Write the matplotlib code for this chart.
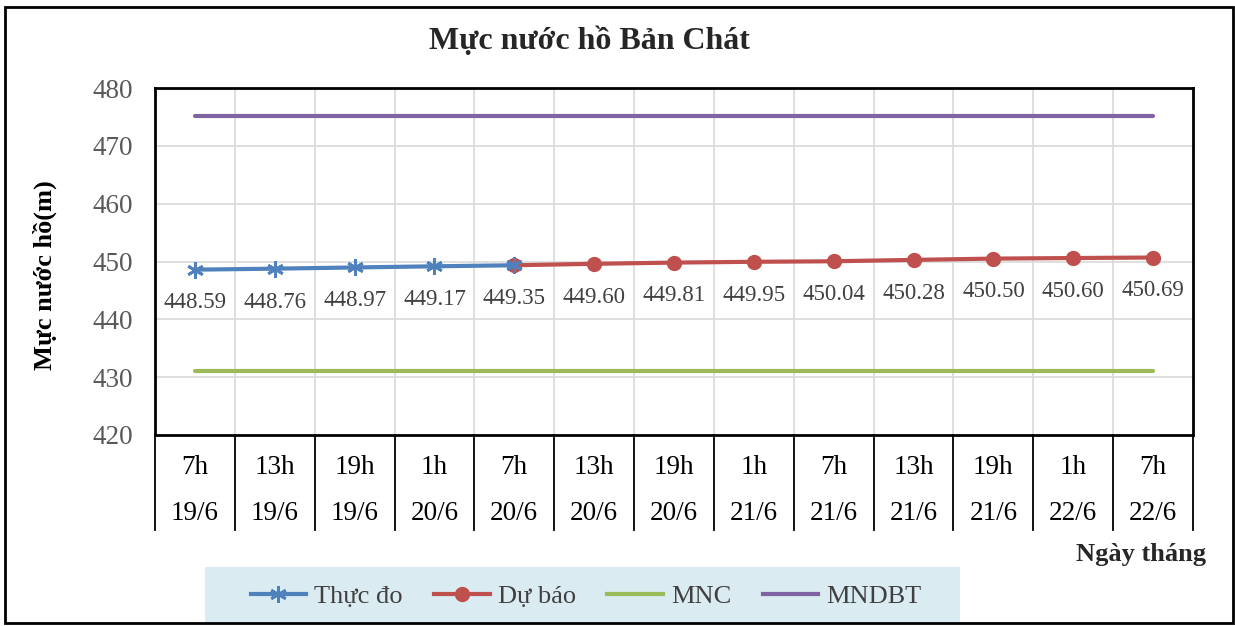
import matplotlib
matplotlib.use("Agg")
import matplotlib.pyplot as plt
from matplotlib.patches import Rectangle
from matplotlib.lines import Line2D

# data
hours = ['7h', '13h', '19h', '1h', '7h', '13h', '19h', '1h', '7h', '13h', '19h', '1h', '7h']
days = ['19/6', '19/6', '19/6', '20/6', '20/6', '20/6', '20/6', '21/6', '21/6', '21/6', '21/6', '22/6', '22/6']
thuc_do = [448.59, 448.76, 448.97, 449.17, 449.35]
du_bao = [449.35, 449.60, 449.81, 449.95, 450.04, 450.28, 450.50, 450.60, 450.69]
mnc = 431.0
mndbt = 475.2

plt.rcParams['font.family'] = ['Liberation Serif', 'DejaVu Serif']

W, H = 1235, 626
fig = plt.figure(figsize=(W / 100, H / 100), dpi=100)

# outer frame
fig.patches.append(Rectangle((5 / W, 1 - 623 / H), 1228 / W, 616 / H, transform=fig.transFigure,
                             fill=False, edgecolor='black', lw=2))

x0, x1, ytop, ybot = 155, 1193, 88, 435
ax = fig.add_axes([x0 / W, 1 - ybot / H, (x1 - x0) / W, (ybot - ytop) / H])

n = len(hours)
xs = list(range(n))
ax.set_xlim(-0.5, n - 0.5)
ax.set_ylim(420, 480)
ax.set_yticks([420, 430, 440, 450, 460, 470, 480])
ax.tick_params(axis='y', labelsize=19.5, labelcolor='#595959', length=0, pad=16)
ax.set_xticks([])

# grid
for v in range(430, 480, 10):
    ax.axhline(v, color='#d9d9d9', lw=1.2, zorder=0)
for k in range(n - 1):
    ax.axvline(k + 0.5, color='#d9d9d9', lw=1.2, zorder=0)

for s in ax.spines.values():
    s.set_linewidth(2)
    s.set_color('black')

ax.plot([0, n - 1], [mndbt, mndbt], color='#8064a2', lw=3, solid_capstyle='round', zorder=2)
ax.plot([0, n - 1], [mnc, mnc], color='#9bbb59', lw=3, solid_capstyle='round', zorder=2)
ax.plot(xs[4:], du_bao, color='#c0504d', lw=3, marker='o', markersize=10, zorder=3)
ax.plot(xs[:5], thuc_do, color='#4f81bd', lw=3, marker=(6, 2, 0), markersize=12,
        markeredgewidth=2, zorder=4)

# data labels
labels = thuc_do[:4] + du_bao
for i, v in enumerate(labels):
    ax.annotate(f'{v:.2f}', (i, v), xytext=(0, -24), textcoords='offset points',
                ha='center', va='center', fontsize=16.5, color='#404040', zorder=5)

# category table under the axis
tr = ax.get_xaxis_transform()
depth = (530 - ybot) / (ybot - ytop)
for k in range(n + 1):
    ax.add_line(Line2D([k - 0.5, k - 0.5], [0, -depth], transform=tr, color='black',
                       lw=1.3, clip_on=False))
for i in range(n):
    ax.text(i, -(467 - ybot) / (ybot - ytop), hours[i], transform=tr, ha='center', va='center',
            fontsize=19.5)
    ax.text(i, -(514 - ybot) / (ybot - ytop), days[i], transform=tr, ha='center', va='center',
            fontsize=19.5)

fig.text(589 / W, 1 - 41 / H, 'Mực nước hồ Bản Chát', ha='center', va='center',
         fontsize=23, fontweight='bold', color='#262626')
fig.text(45 / W, 1 - 275 / H, 'Mực nước hồ(m)', ha='center', va='center', rotation=90,
         fontsize=19, fontweight='bold')
fig.text(1206 / W, 1 - 555 / H, 'Ngày tháng', ha='right', va='center',
         fontsize=19, fontweight='bold', color='#262626')

# legend
fig.patches.append(Rectangle((205 / W, 1 - 624 / H), 755 / W, 57 / H, transform=fig.transFigure,
                             facecolor='#daebf2', edgecolor='none', zorder=0))
handles = [
    Line2D([], [], color='#4f81bd', lw=3, marker=(6, 2, 0), markersize=12, markeredgewidth=2),
    Line2D([], [], color='#c0504d', lw=3, marker='o', markersize=10),
    Line2D([], [], color='#9bbb59', lw=3),
    Line2D([], [], color='#8064a2', lw=3),
]
fig.legend(handles, ['Thực đo', 'Dự báo', 'MNC', 'MNDBT'], loc='center',
           bbox_to_anchor=(586 / W, 1 - 596 / H), ncol=4, frameon=False, fontsize=19,
           handlelength=2.1, handletextpad=0.3, columnspacing=1.2, labelcolor='#404040')

fig.savefig('out.png', dpi=100)
